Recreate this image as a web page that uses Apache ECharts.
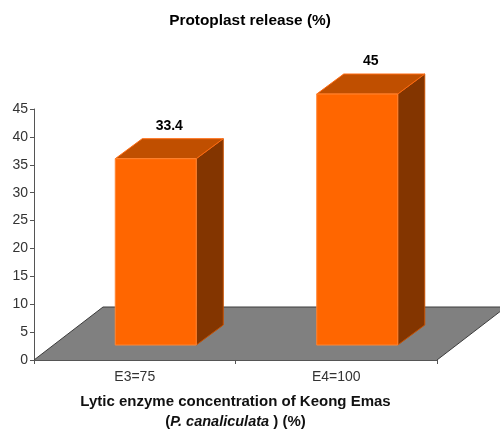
<!DOCTYPE html>
<html>
<head>
<meta charset="utf-8">
<style>html,body{margin:0;padding:0;background:#fff}#c{width:500px;height:430px}</style>
<script src="https://cdn.jsdelivr.net/npm/echarts@6/dist/echarts.min.js"></script>
</head>
<body>
<div id="c"></div>
<script>
const categories = ['E3=75', 'E4=100'];
const releaseValues = [33.4, 45];
const floorDepthValue = [0];

const FONT = '"Liberation Sans", Arial, sans-serif';
const chart = echarts.init(document.getElementById('c'), null, {renderer: 'canvas'});

function poly(points, fill, stroke, lw) {
  return {type: 'polygon', shape: {points}, style: {fill, stroke: stroke || fill, lineWidth: lw === undefined ? 1 : lw}};
}

function renderFloor(params, api) {
  const cs = params.coordSys;
  const l = cs.x, r = cs.x + cs.width, b = cs.y + cs.height;
  const dx = 69, dy = 53;
  return {type: 'group', children: [
    poly([[l, b], [r, b], [r + dx, b - dy], [l + dx, b - dy]], '#808080', '#808080', 0),
    {type: 'line', shape: {x1: l, y1: b, x2: l + dx, y2: b - dy}, style: {stroke: '#3c3c3c', lineWidth: 1}},
    {type: 'line', shape: {x1: l + dx, y1: b - dy, x2: r + dx, y2: b - dy}, style: {stroke: '#3c3c3c', lineWidth: 1}},
    {type: 'line', shape: {x1: r, y1: b, x2: r + dx, y2: b - dy}, style: {stroke: '#3c3c3c', lineWidth: 1}}
  ]};
}

function renderBar(params, api) {
  const i = api.value(0), v = api.value(1);
  const base = api.coord([i, 0]);
  const top = api.coord([i, v]);
  const w = 81, ox = 21, oy = 15, dx = 27, dy = 20;
  const x0 = base[0] + ox - w / 2, x1 = x0 + w;
  const yb = base[1] - oy, yt = top[1] - oy;
  const edge = '#ff8533';
  return {type: 'group', children: [
    poly([[x1, yb], [x1 + dx, yb - dy], [x1 + dx, yt - dy], [x1, yt]], '#833500', '#c65000'),
    poly([[x0, yt], [x0 + dx, yt - dy], [x1 + dx, yt - dy], [x1, yt]], '#c04f00', '#ff6a10'),
    poly([[x0, yb], [x1, yb], [x1, yt], [x0, yt]], '#ff6600', edge),
    {type: 'text', style: {
      x: (x0 + x1 + dx) / 2, y: yt - dy - 13,
      text: String(v), fill: '#000', font: 'bold 14px ' + FONT,
      textAlign: 'center', textVerticalAlign: 'middle'
    }}
  ]};
}

chart.setOption({
  animation: false,
  backgroundColor: '#fff',
  title: {
    text: 'Protoplast release (%)', left: 245, top: 8, textAlign: 'center',
    textStyle: {fontFamily: FONT, fontSize: 15.4, fontWeight: 'bold', color: '#000'}
  },
  grid: {left: 34, top: 109, width: 403, height: 251, containLabel: false, outerBoundsMode: 'none'},
  xAxis: {
    type: 'category', data: categories,
    axisLine: {lineStyle: {color: '#555', width: 1}},
    axisTick: {show: true, length: 4, alignWithLabel: false, lineStyle: {color: '#555'}},
    axisLabel: {fontFamily: FONT, fontSize: 14, color: '#333', margin: 10},
    name: '{b|Lytic enzyme concentration of Keong Emas}\n{b|(}{i|P. canaliculata}{b| ) (%)}',
    nameLocation: 'middle', nameGap: 32,
    nameTextStyle: {
      lineHeight: 20,
      rich: {
        b: {fontFamily: FONT, fontSize: 15, fontWeight: 'bold', color: '#111', lineHeight: 20},
        i: {fontFamily: FONT, fontSize: 14.5, fontWeight: 'bold', fontStyle: 'italic', color: '#111', lineHeight: 20}
      }
    }
  },
  yAxis: {
    type: 'value', min: 0, max: 45, interval: 5,
    splitLine: {show: false},
    axisLine: {show: true, lineStyle: {color: '#555', width: 1}},
    axisTick: {show: true, length: 4, lineStyle: {color: '#555'}},
    axisLabel: {fontFamily: FONT, fontSize: 14, color: '#333', margin: 6}
  },
  series: [
    {type: 'custom', renderItem: renderFloor, data: floorDepthValue.map(v => [v]), clip: false, silent: true, z: 1},
    {type: 'custom', renderItem: renderBar, encode: {x: 0, y: 1},
     data: categories.map((c, i) => [i, releaseValues[i]]), clip: false, z: 2}
  ]
});
</script>
</body>
</html>
